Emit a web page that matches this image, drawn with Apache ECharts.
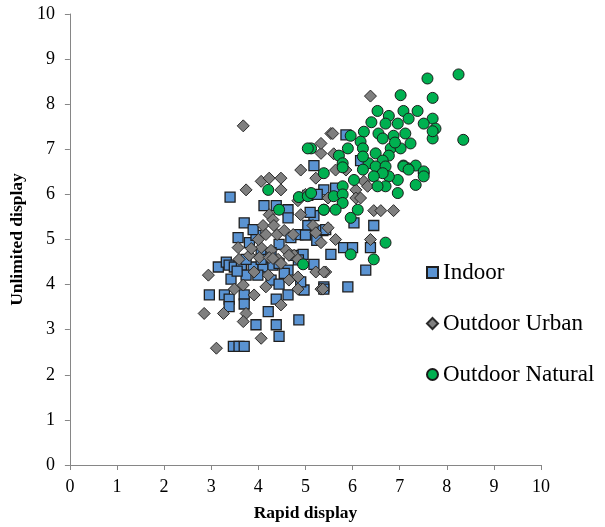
<!DOCTYPE html>
<html><head><meta charset="utf-8">
<script src="https://cdn.jsdelivr.net/npm/echarts@6/dist/echarts.min.js"></script>
<style>html,body{margin:0;padding:0;background:#fff}#c{width:605px;height:527px}</style>
</head><body><div id="c"></div>
<script>
const xTicks = [0,1,2,3,4,5,6,7,8,9,10];
const yTicks = [0,1,2,3,4,5,6,7,8,9,10];
const seriesNames = ['Indoor','Outdoor Urban','Outdoor Natural'];

const indoor = [
[3.40,5.94],[3.15,4.39],[3.32,4.50],[3.38,4.43],[3.49,4.39],[3.64,4.43],[3.89,4.39],[4.10,4.39],
[4.31,4.43],[4.44,4.47],[4.76,4.65],[2.96,3.77],[3.28,3.77],[3.38,3.68],[3.38,3.51],[3.70,3.77],
[3.70,3.57],[3.42,4.12],[3.74,4.21],[3.99,4.21],[4.27,4.10],[4.44,4.01],[4.63,3.77],[4.38,3.68],
[4.21,3.40],[3.95,3.11],[4.38,3.11],[4.44,2.85],[4.86,3.22],[3.47,2.63],[3.59,2.63],[3.70,2.63],
[4.97,3.88],[5.18,4.45],[5.39,3.95],[4.90,4.06],[5.18,6.64],[5.39,6.10],[4.12,5.75],[4.38,5.75],
[4.63,5.66],[4.63,5.48],[5.18,5.53],[3.70,5.37],[3.57,5.04],[3.81,4.93],[3.95,5.09],[4.84,5.11],
[5.05,5.31],[5.37,5.20],[4.95,4.67],[4.44,4.89],[5.86,7.32],[5.64,6.14],[6.03,5.37],[6.45,5.31],
[5.43,5.22],[5.81,4.82],[6.00,4.82],[6.38,4.82],[5.54,4.67],[6.28,4.32],[5.90,3.95],[5.39,3.90],
[4.06,4.71],[3.89,5.22],[4.69,5.04],[4.63,4.32],[4.06,4.56],[3.74,4.56],[4.27,4.71],[5.24,4.98],
[6.17,6.75],[5.05,5.98],[4.85,4.55],[3.55,4.30],[4.55,4.25],[5.10,5.60],[5.25,6.00],[5.00,5.10]
];
const urban = [
[3.68,7.52],[4.90,6.54],[4.06,6.29],[4.23,6.36],[4.48,6.36],[4.48,6.10],[3.74,6.10],[5.22,6.36],
[5.33,6.91],[5.54,7.35],[4.84,5.86],[4.90,5.55],[4.23,5.55],[4.31,5.44],[4.10,5.31],[4.33,5.31],
[4.16,5.11],[4.40,5.11],[4.55,5.20],[4.74,5.11],[5.16,5.31],[5.22,5.15],[5.33,4.93],[3.57,4.82],
[4.06,4.82],[4.27,4.76],[4.59,4.76],[4.76,4.65],[2.94,4.21],[3.59,4.56],[3.81,4.65],[4.02,4.60],
[4.23,4.60],[4.42,4.56],[4.65,4.65],[4.84,4.56],[3.91,4.28],[4.21,4.21],[4.16,3.95],[3.49,3.90],
[3.68,3.99],[3.91,3.77],[4.65,4.10],[4.84,4.17],[4.84,3.90],[5.33,3.90],[5.22,4.28],[5.43,4.28],
[4.48,3.55],[3.74,3.36],[3.68,3.18],[3.26,3.36],[2.85,3.36],[4.06,2.81],[3.11,2.59],[4.48,4.47],
[4.31,4.58],[5.64,6.54],[5.86,6.54],[6.24,6.29],[6.32,6.18],[6.07,6.10],[6.07,5.92],[6.17,5.92],
[5.48,5.92],[6.45,5.64],[6.87,5.64],[5.48,5.26],[5.64,5.00],[6.38,5.00],[5.39,4.28],[5.37,3.90],
[6.38,8.18],[5.58,7.35],[5.33,7.13],[6.60,5.64],[5.00,6.00],[4.00,5.00],[3.85,4.80],[5.60,6.90]
];
const natural = [
[8.25,8.66],[7.59,8.57],[7.02,8.20],[7.70,8.14],[8.35,7.21],[6.53,7.85],[6.77,7.74],[7.08,7.85],
[7.38,7.85],[7.70,7.68],[7.51,7.57],[7.76,7.46],[7.70,7.24],[7.19,7.68],[6.96,7.57],[6.70,7.57],
[6.55,7.35],[6.24,7.39],[5.96,7.30],[7.12,7.35],[6.87,7.30],[7.23,7.13],[6.64,7.24],[6.17,7.17],
[5.90,7.02],[6.22,7.02],[6.81,7.02],[7.02,7.02],[6.49,6.91],[6.77,6.86],[5.71,6.86],[6.34,6.69],
[7.08,6.64],[7.34,6.64],[6.22,6.84],[5.79,6.69],[6.64,6.75],[5.12,7.02],[5.05,7.02],[7.17,6.58],
[7.51,6.47],[7.70,7.40],[5.79,6.60],[6.22,6.55],[6.49,6.62],[6.70,6.62],[7.08,6.62],[7.19,6.55],
[7.51,6.51],[7.51,6.40],[7.34,6.21],[6.96,6.32],[6.96,6.03],[6.77,6.40],[6.64,6.47],[6.45,6.40],
[6.70,6.18],[6.53,6.18],[6.03,6.32],[5.79,6.18],[5.60,5.96],[5.79,6.00],[5.79,5.81],[5.39,5.66],
[5.64,5.66],[6.11,5.66],[5.96,5.48],[6.70,4.93],[5.96,4.67],[6.45,4.56],[5.39,6.47],[4.21,6.10],
[4.86,5.94],[5.05,5.96],[5.12,6.03],[4.44,5.66],[5.39,5.66],[4.95,4.45],[6.40,7.60],[6.90,7.15]
];

const chart = echarts.init(document.getElementById('c'), null, {renderer:'canvas'});
const serif = '"Liberation Serif","Times New Roman",serif';
const axisCommon = {
  min: 0, max: 10, interval: 1,
  axisLine: {show:true, lineStyle:{color:'#868686', width:1}},
  axisTick: {show:true, inside:false, length:5, lineStyle:{color:'#868686'}},
  splitLine: {show:false},
  axisLabel: {color:'#000', fontFamily: serif, fontSize: 18},
  nameLocation: 'middle',
  nameTextStyle: {color:'#000', fontFamily: serif, fontSize: 17.5, fontWeight: 'bold'}
};
chart.setOption({
  animation: false,
  backgroundColor: '#fff',
  grid: {left: 68, right: 64, top: 14, bottom: 57, containLabel: false},
  xAxis: Object.assign({}, axisCommon, {type:'value', name:'Rapid display', nameGap: 39,
    axisLabel: Object.assign({}, axisCommon.axisLabel, {margin: 13})}),
  yAxis: Object.assign({}, axisCommon, {type:'value', name:'Unlimited display', nameGap: 33,
    axisLabel: Object.assign({}, axisCommon.axisLabel, {margin: 15})}),
  legend: {
    orient: 'vertical', left: 421, top: 256, itemGap: 28,
    itemWidth: 11, itemHeight: 11,
    textStyle: {color:'#000', fontFamily: serif, fontSize: 23},
    data: seriesNames
  },
  series: [
    {name: seriesNames[0], type:'scatter', data: indoor, symbol:'rect', symbolSize: 10,
     itemStyle:{color:'#5A93D2', borderColor:'#1f1f1f', borderWidth:1.3, opacity:1}},
    {name: seriesNames[1], type:'scatter', data: urban, symbol:'diamond', symbolSize: 12,
     itemStyle:{color:'#7F7F7F', borderColor:'#2a2a2a', borderWidth:1, opacity:1}},
    {name: seriesNames[2], type:'scatter', data: natural, symbol:'circle', symbolSize: 11,
     itemStyle:{color:'#00B050', borderColor:'#1a1a1a', borderWidth:1, opacity:1}}
  ]
});
</script></body></html>
